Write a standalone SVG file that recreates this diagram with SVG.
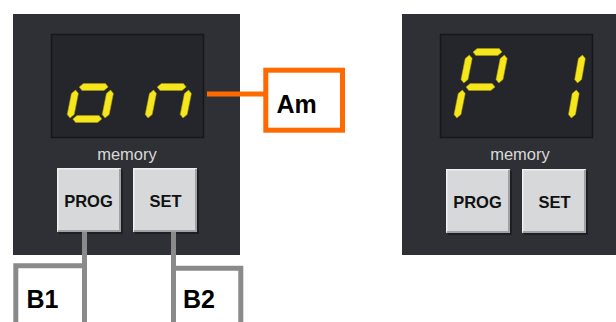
<svg xmlns="http://www.w3.org/2000/svg" width="616" height="322" viewBox="0 0 616 322">
<defs>
<style>
.panel{fill:#2f3035}
.disp{fill:#24262b;stroke:#16171a;stroke-width:1.5}
.seg{fill:#f6e71c;stroke:#a89a10;stroke-width:0.5}
.btn{fill:#d6d8da}
.hl{fill:none;stroke:#eef0f1;stroke-width:1.5}
.sh{fill:none;stroke:#9fa1a4;stroke-width:2}
.mem{font-family:"Liberation Sans",Arial,sans-serif;font-size:16.5px;fill:#d9d9d9;text-anchor:middle}
.bt{font-family:"Liberation Sans",Arial,sans-serif;font-size:16.5px;font-weight:bold;fill:#111;text-anchor:middle}
.lbl{font-family:"Liberation Sans",Arial,sans-serif;font-size:25px;font-weight:bold;fill:#000}
.gray{fill:none;stroke:#8a8a8a;stroke-width:5}
.orange{fill:none;stroke:#ff6a00;stroke-width:5}
</style>
<path id="h" class="seg" d="M3,0 L6.5,-3.5 L28.5,-3.5 L32,0 L28.5,3.5 L6.5,3.5Z"/>
<path id="v" class="seg" d="M0,3 L3.5,6.5 L3.5,27.5 L0,31 L-3.5,27.5 L-3.5,6.5Z"/>
</defs>
<rect width="616" height="322" fill="#ffffff"/>

<g id="panel-left">
<rect class="panel" x="13" y="14" width="227" height="241"/>
<rect class="disp" x="51.5" y="34.5" width="152" height="103"/>
<g id="digit-o" transform="translate(83,53) skewX(-11.3)">
<use href="#v" x="35" y="34"/><use href="#h" x="0" y="66"/><use href="#v" x="0" y="34"/><use href="#h" x="0" y="34"/>
</g>
<g id="digit-n" transform="translate(161,53) skewX(-11.3)">
<use href="#v" x="35" y="34"/><use href="#v" x="0" y="34"/><use href="#h" x="0" y="34"/>
</g>
<text class="mem" x="127" y="160">memory</text>
<g id="btn-prog-left">
<rect x="59" y="170" width="64" height="64" fill="#1e1f22"/>
<rect class="btn" x="57" y="168" width="64" height="64"/>
<polyline class="hl" points="57.75,231 57.75,168.75 120,168.75"/>
<polyline class="sh" points="58,231 120,231 120,169"/>
<text class="bt" x="88.5" y="207">PROG</text>
</g>
<g id="btn-set-left">
<rect x="135" y="170" width="64" height="64" fill="#1e1f22"/>
<rect class="btn" x="133" y="168" width="64" height="64"/>
<polyline class="hl" points="133.75,231 133.75,168.75 196,168.75"/>
<polyline class="sh" points="134,231 196,231 196,169"/>
<text class="bt" x="165.5" y="207">SET</text>
</g>
</g>

<g id="panel-right">
<rect class="panel" x="402" y="14" width="227" height="241"/>
<rect class="disp" x="440.5" y="34.5" width="152" height="103"/>
<g id="digit-P" transform="translate(470,52) skewX(-11.3)">
<use href="#h" x="0" y="0"/><use href="#v" x="35" y="0"/><use href="#v" x="0" y="0"/><use href="#h" x="0" y="35"/><use href="#v" x="0" y="35"/>
</g>
<g id="digit-1" transform="translate(548,52) skewX(-10)">
<use href="#v" x="35" y="0"/><use href="#v" x="35" y="35"/>
</g>
<text class="mem" x="520" y="160">memory</text>
<g id="btn-prog-right">
<rect x="448" y="171" width="64" height="64" fill="#1e1f22"/>
<rect class="btn" x="446" y="169" width="64" height="64"/>
<polyline class="hl" points="446.75,232 446.75,169.75 509,169.75"/>
<polyline class="sh" points="447,232 509,232 509,170"/>
<text class="bt" x="477.5" y="208">PROG</text>
</g>
<g id="btn-set-right">
<rect x="524" y="171" width="64" height="64" fill="#1e1f22"/>
<rect class="btn" x="522" y="169" width="64" height="64"/>
<polyline class="hl" points="522.75,232 522.75,169.75 585,169.75"/>
<polyline class="sh" points="523,232 585,232 585,170"/>
<text class="bt" x="554.5" y="208">SET</text>
</g>
</g>

<g id="connectors">
<line class="orange" x1="207" y1="94" x2="264" y2="94" stroke-width="4.5"/>
<line class="gray" x1="84.5" y1="232" x2="84.5" y2="322"/>
<line class="gray" x1="173.5" y1="232" x2="173.5" y2="322"/>
</g>

<g id="label-Am">
<rect class="orange" x="265.8" y="70.2" width="76.7" height="60"/>
<text class="lbl" x="276.5" y="113">Am</text>
</g>
<g id="label-B1">
<polyline class="gray" points="15.8,322 15.8,265.8 84.5,265.8"/>
<text class="lbl" x="26.5" y="308">B1</text>
</g>
<g id="label-B2">
<polyline class="gray" points="173.5,268.2 240.8,268.2 240.8,322"/>
<text class="lbl" x="183" y="308">B2</text>
</g>
</svg>
